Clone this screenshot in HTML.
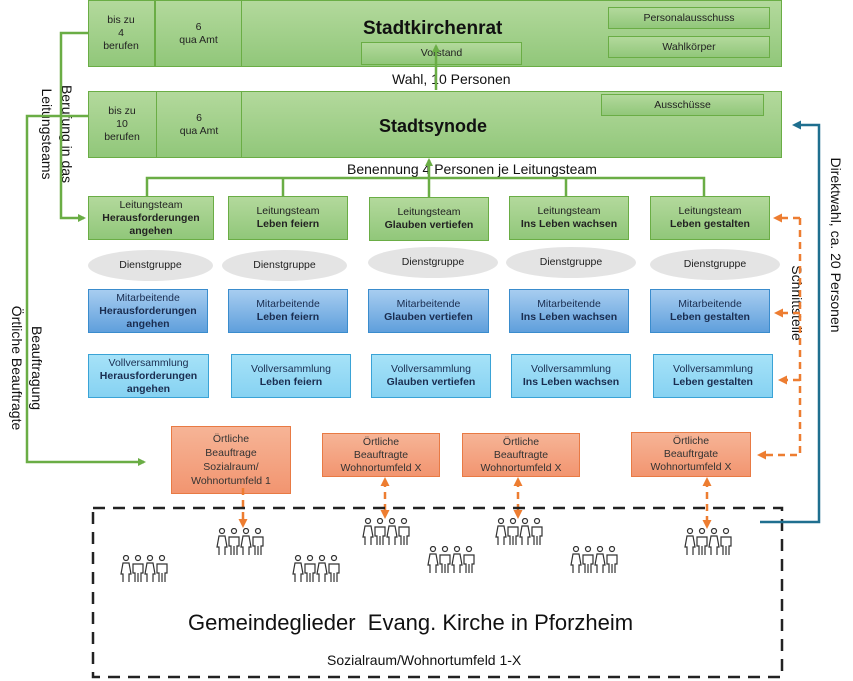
<!DOCTYPE html>
<html><head><meta charset="utf-8"><style>
body{margin:0;width:853px;height:681px;background:#fff;position:relative;overflow:hidden;font-family:"Liberation Sans",sans-serif;}
.b{position:absolute;box-sizing:border-box;display:flex;align-items:center;justify-content:center;text-align:center;font-size:10.5px;line-height:13px;color:#222;}
.b>span{display:block;}
.g{background:linear-gradient(#b3d99c,#91c77a);border:1.5px solid #6aad45;}
.m{background:linear-gradient(#a7cdf0,#5f9fdc);border:1.5px solid #3a8ccd;color:#1a2d50;}
.v{background:linear-gradient(#a6e2f8,#86d2f2);border:1.5px solid #3aa3d6;color:#1a2d50;}
.o{background:linear-gradient(#f6b496,#f29570);border:1.5px solid #e87a44;color:#333;}
.e{background:#e4e4e4;border-radius:50%;}
.t{position:absolute;white-space:nowrap;color:#111;}
b{font-weight:bold;}
</style></head><body>
<div class="b g" style="left:88px;top:0;width:694px;height:67px"></div>
<div class="b" style="left:88px;top:0;width:68px;height:67px;border-right:2px solid #6aad45"><span>bis zu<br>4<br>berufen</span></div>
<div class="b" style="left:156px;top:0;width:86px;height:67px;border-right:1.5px solid #6aad45"><span>6<br>qua Amt</span></div>
<div class="t" style="left:363px;top:18px;font-size:19px;font-weight:bold">Stadtkirchenrat</div>
<div class="b g" style="left:361px;top:42px;width:161px;height:23px"><span>Vorstand</span></div>
<div class="b g" style="left:608px;top:7px;width:162px;height:22px"><span>Personalausschuss</span></div>
<div class="b g" style="left:608px;top:36px;width:162px;height:22px"><span>Wahlkörper</span></div>

<div class="b g" style="left:88px;top:91px;width:694px;height:67px"></div>
<div class="b" style="left:88px;top:91px;width:69px;height:67px;border-right:1.5px solid #6aad45"><span>bis zu<br>10<br>berufen</span></div>
<div class="b" style="left:157px;top:91px;width:85px;height:67px;border-right:1.5px solid #6aad45"><span>6<br>qua Amt</span></div>
<div class="t" style="left:379px;top:116px;font-size:18px;font-weight:bold">Stadtsynode</div>
<div class="b g" style="left:601px;top:94px;width:163px;height:22px"><span>Ausschüsse</span></div>

<div class="t" style="left:392px;top:71px;font-size:14px">Wahl, 10 Personen</div>
<div class="t" style="left:347px;top:161px;font-size:14px">Benennung 4 Personen je Leitungsteam</div>

<div class="b g" style="left:88px;top:196px;width:126px;height:44px"><span>Leitungsteam<br><b>Herausforderungen<br>angehen</b></span></div>
<div class="b g" style="left:228px;top:196px;width:120px;height:44px"><span>Leitungsteam<br><b>Leben feiern</b></span></div>
<div class="b g" style="left:369px;top:197px;width:120px;height:44px"><span>Leitungsteam<br><b>Glauben vertiefen</b></span></div>
<div class="b g" style="left:509px;top:196px;width:120px;height:44px"><span>Leitungsteam<br><b>Ins Leben wachsen</b></span></div>
<div class="b g" style="left:650px;top:196px;width:120px;height:44px"><span>Leitungsteam<br><b>Leben gestalten</b></span></div>

<div class="b e" style="left:88px;top:250px;width:125px;height:31px"><span>Dienstgruppe</span></div>
<div class="b e" style="left:222px;top:250px;width:125px;height:31px"><span>Dienstgruppe</span></div>
<div class="b e" style="left:368px;top:247px;width:130px;height:31px"><span>Dienstgruppe</span></div>
<div class="b e" style="left:506px;top:247px;width:130px;height:31px"><span>Dienstgruppe</span></div>
<div class="b e" style="left:650px;top:249px;width:130px;height:31px"><span>Dienstgruppe</span></div>

<div class="b m" style="left:88px;top:289px;width:120px;height:44px"><span>Mitarbeitende<br><b>Herausforderungen<br>angehen</b></span></div>
<div class="b m" style="left:228px;top:289px;width:120px;height:44px"><span>Mitarbeitende<br><b>Leben feiern</b></span></div>
<div class="b m" style="left:368px;top:289px;width:121px;height:44px"><span>Mitarbeitende<br><b>Glauben vertiefen</b></span></div>
<div class="b m" style="left:509px;top:289px;width:120px;height:44px"><span>Mitarbeitende<br><b>Ins Leben wachsen</b></span></div>
<div class="b m" style="left:650px;top:289px;width:120px;height:44px"><span>Mitarbeitende<br><b>Leben gestalten</b></span></div>

<div class="b v" style="left:88px;top:354px;width:121px;height:44px"><span>Vollversammlung<br><b>Herausforderungen<br>angehen</b></span></div>
<div class="b v" style="left:231px;top:354px;width:120px;height:44px"><span>Vollversammlung<br><b>Leben feiern</b></span></div>
<div class="b v" style="left:371px;top:354px;width:120px;height:44px"><span>Vollversammlung<br><b>Glauben vertiefen</b></span></div>
<div class="b v" style="left:511px;top:354px;width:120px;height:44px"><span>Vollversammlung<br><b>Ins Leben wachsen</b></span></div>
<div class="b v" style="left:653px;top:354px;width:120px;height:44px"><span>Vollversammlung<br><b>Leben gestalten</b></span></div>

<div class="b o" style="left:171px;top:426px;width:120px;height:68px;line-height:14px"><span>Örtliche<br>Beauftrage<br>Sozialraum/<br>Wohnortumfeld 1</span></div>
<div class="b o" style="left:322px;top:433px;width:118px;height:44px"><span>Örtliche<br>Beauftragte<br>Wohnortumfeld X</span></div>
<div class="b o" style="left:462px;top:433px;width:118px;height:44px"><span>Örtliche<br>Beauftragte<br>Wohnortumfeld X</span></div>
<div class="b o" style="left:631px;top:432px;width:120px;height:45px"><span>Örtliche<br>Beauftrgate<br>Wohnortumfeld X</span></div>

<div class="t" style="left:188px;top:610px;font-size:22px;color:#111">Gemeindeglieder&nbsp; Evang. Kirche in Pforzheim</div>
<div class="t" style="left:327px;top:652px;font-size:14px">Sozialraum/Wohnortumfeld 1-X</div>

<div class="t" style="top:245px;font-size:14px;transform:translate(-50%,-50%) rotate(90deg);left:836px">Direktwahl, ca. 20 Personen</div>
<div class="t" style="left:797px;top:303px;font-size:14px;transform:translate(-50%,-50%) rotate(90deg)">Schnittstelle</div>
<div class="t" style="left:57px;top:134px;font-size:14px;line-height:20px;text-align:center;transform:translate(-50%,-50%) rotate(90deg)">Berufung in das<br>Leitungsteams</div>
<div class="t" style="left:27px;top:368px;font-size:14px;line-height:20px;text-align:center;transform:translate(-50%,-50%) rotate(90deg)">Beauftragung<br>Örtliche Beauftragte</div>

<svg width="853" height="681" style="position:absolute;left:0;top:0" xmlns="http://www.w3.org/2000/svg">
<defs>
<marker id="ag" markerWidth="8" markerHeight="8" refX="6" refY="4" orient="auto" markerUnits="userSpaceOnUse"><path d="M0,0 L8,4 L0,8z" fill="#6aad45"/></marker>
<marker id="ao" markerWidth="9" markerHeight="9" refX="6" refY="4.5" orient="auto-start-reverse" markerUnits="userSpaceOnUse"><path d="M0,0 L9,4.5 L0,9z" fill="#ed7d31"/></marker>
<marker id="ab" markerWidth="9" markerHeight="9" refX="6" refY="4.5" orient="auto" markerUnits="userSpaceOnUse"><path d="M0,0 L9,4.5 L0,9z" fill="#1f6f8f"/></marker>
<symbol id="pp" viewBox="0 0 48 28">
<g fill="none" stroke="#333" stroke-width="1.2">
<circle cx="6" cy="3" r="2.5"/><circle cx="18" cy="3" r="2.5"/><circle cx="30" cy="3" r="2.5"/><circle cx="42" cy="3" r="2.5"/>
<path d="M3,27 V19 H1 L3,8 H9 L11,19 H9 V27"/>
<path d="M15,27 V18 H13 V9 H23 V18 H21 V27 M18,18 V27"/>
<path d="M27,27 V19 H25 L27,8 H33 L35,19 H33 V27"/>
<path d="M39,27 V18 H37 V9 H47 V18 H45 V27 M42,18 V27"/>
</g></symbol>
</defs>
<g stroke="#6aad45" stroke-width="2.5" fill="none">
<line x1="436" y1="90" x2="436" y2="46" marker-end="url(#ag)"/>
<line x1="429" y1="178" x2="429" y2="160" marker-end="url(#ag)"/>
<polyline points="147,196 147,178 704,178 704,196"/>
<line x1="283" y1="178" x2="283" y2="196"/><line x1="429" y1="178" x2="429" y2="197"/><line x1="566" y1="178" x2="566" y2="196"/>
<polyline points="88,33 61,33 61,218 84,218" marker-end="url(#ag)"/>
<polyline points="88,116 27,116 27,462 144,462" marker-end="url(#ag)"/>
</g>
<g stroke="#ed7d31" stroke-width="2.5" fill="none" stroke-dasharray="7,5">
<polyline points="800,218 800,455 760,455" marker-end="url(#ao)"/>
<line x1="800" y1="218" x2="776" y2="218" marker-end="url(#ao)"/>
<line x1="800" y1="313" x2="777" y2="313" marker-end="url(#ao)"/>
<line x1="800" y1="380" x2="781" y2="380" marker-end="url(#ao)"/>
<line x1="243" y1="488" x2="243" y2="525" marker-end="url(#ao)"/>
<line x1="385" y1="480" x2="385" y2="516" marker-start="url(#ao)" marker-end="url(#ao)"/>
<line x1="518" y1="480" x2="518" y2="516" marker-start="url(#ao)" marker-end="url(#ao)"/>
<line x1="707" y1="480" x2="707" y2="526" marker-start="url(#ao)" marker-end="url(#ao)"/>
</g>
<rect x="93" y="508" width="689" height="169" fill="none" stroke="#222" stroke-width="2.5" stroke-dasharray="12,8"/>
<polyline points="760,522 819,522 819,125 795,125" fill="none" stroke="#1f6f8f" stroke-width="2.5" marker-end="url(#ab)"/>
<use href="#pp" x="216" y="528" width="48" height="28"/>
<use href="#pp" x="362" y="518" width="48" height="28"/>
<use href="#pp" x="495" y="518" width="48" height="28"/>
<use href="#pp" x="684" y="528" width="48" height="28"/>
<use href="#pp" x="120" y="555" width="48" height="28"/>
<use href="#pp" x="292" y="555" width="48" height="28"/>
<use href="#pp" x="427" y="546" width="48" height="28"/>
<use href="#pp" x="570" y="546" width="48" height="28"/>
</svg>
</body></html>
